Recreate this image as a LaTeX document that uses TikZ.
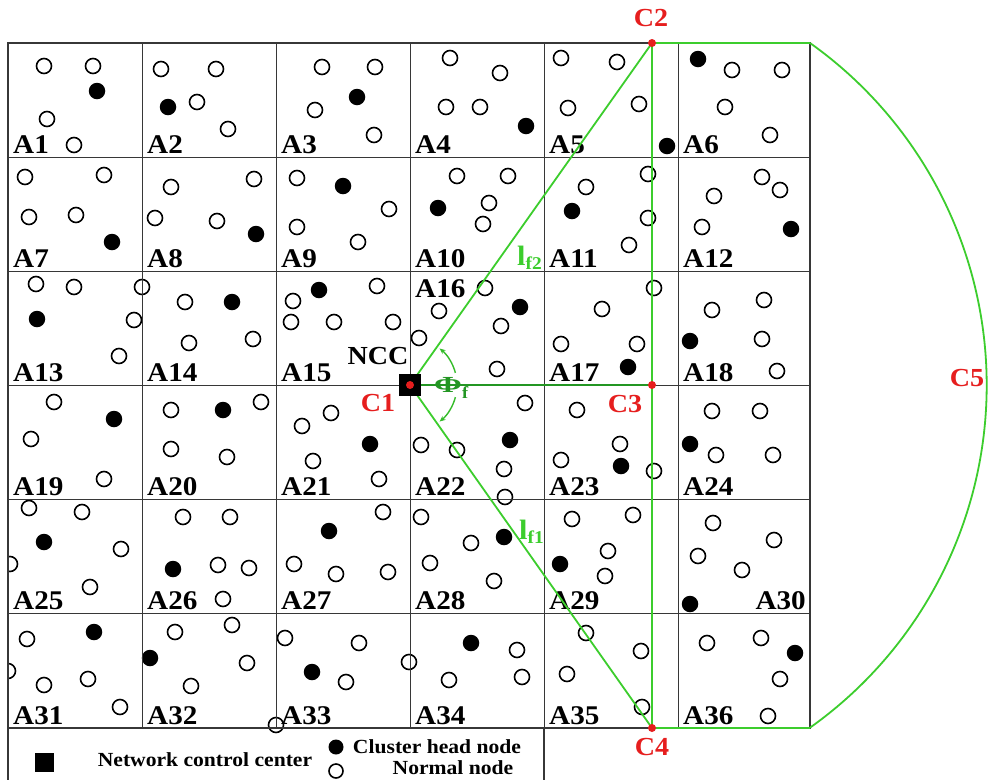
\documentclass[tikz,border=0pt]{standalone}
\usepackage{fontspec}
\setmainfont{Liberation Serif}[FakeStretch=1.08]
\usetikzlibrary{arrows.meta,calc}
\definecolor{gline}{RGB}{60,205,45}
\definecolor{dgline}{RGB}{35,150,35}
\definecolor{cred}{RGB}{230,30,30}
\definecolor{gridc}{RGB}{55,55,55}
\begin{document}
\begin{tikzpicture}[x=1pt,y=-1pt,
  opn/.style={circle,draw=black,line width=1.6pt,minimum size=15pt,inner sep=0pt},
  ful/.style={circle,fill=black,minimum size=16.5pt,inner sep=0pt},
  lab/.style={font=\fontsize{27}{27}\selectfont\bfseries,anchor=base west,inner sep=0pt},
  clab/.style={font=\fontsize{26}{26}\selectfont\bfseries,text=cred,inner sep=0pt},
  leg/.style={font=\fontsize{20}{20}\selectfont\bfseries,inner sep=0pt},
  gl/.style={gline,line width=1.8pt},
  rdot/.style={circle,fill=cred,minimum size=8pt,inner sep=0pt}]
\useasboundingbox (0,0) rectangle (988,780);
\fill[white] (0,0) rectangle (988,780);
% nodes (circles)
\begin{scope}
\clip (8,0) rectangle (988,780);
\foreach \x/\y [count=\i] in {
 44/66,93/66,47/119,74/145,161/69,216/69,197/102,228/129,322/67,375/67,315/110,374/135,
 450/58,500/73,446/107,480/107,561/58,617/62,568/108,639/104,732/70,782/70,725/107,770/135,
 25/177,104/175,29/217,76/215,171/187,254/179,155/218,217/221,297/178,389/209,297/227,358/242,
 457/176,508/176,489/203,483/224,648/174,586/187,648/218,629/245,762/177,780/190,714/196,702/227,
 36/284,74/287,142/287,134/320,119/356,185/302,189/343,253/339,377/286,293/301,291/322,334/322,393/322,
 485/288,439/311,501/326,419/338,497/369,654/288,602/309,561/344,637/344,764/300,712/310,762/339,777/371,
 54/402,31/439,104/479,171/410,261/402,171/449,227/457,331/413,302/426,313/461,379/479,
 525/403,421/445,457/450,504/469,505/497,577/410,620/444,561/460,654/471,712/411,760/411,716/455,773/455,
 29/508,82/512,121/549,10/564,90/587,183/517,230/517,218/565,249/568,223/599,383/512,294/564,336/574,388/572,
 421/517,471/543,430/563,494/581,572/519,633/515,608/551,605/576,713/523,774/540,698/556,742/570,
 27/639,8/671,44/685,88/679,120/707,175/632,232/625,247/663,191/686,285/638,359/643,346/682,409/662,276/725,
 517/650,522/677,449/680,586/633,641/651,567/674,642/707,707/643,761/638,780/679,768/716}
  \node[opn] (o\i) at (\x,\y) {};
\foreach \x/\y [count=\i] in {
 97/91,168/107,357/97,526/126,667/146,698/59,
 112/242,256/234,343/186,438/208,572/211,791/229,
 37/319,232/302,319/290,520/307,628/367,690/341,
 114/419,223/410,370/444,510/440,621/466,690/444,
 44/542,173/569,329/531,504/537,560/564,690/604,
 94/632,150/658,312/672,471/643,795/653}
  \node[ful] (f\i) at (\x,\y) {};
\end{scope}
% grid
\draw[gridc,line width=1.3pt] (8,43) rectangle (810,728);
\foreach \x in {142,276,410,544,678} \draw[gridc,line width=1pt] (\x,43) -- (\x,728);
\foreach \y in {157,271,385,499,613} \draw[gridc,line width=1pt] (8,\y) -- (810,\y);
\draw[gridc,line width=1.3pt] (8,728) -- (8,780) (544,728) -- (544,780);
% cell labels
\foreach \n/\x/\y in {1/13/153,2/147/153,3/281/153,4/415/153,5/549/153,6/683/153,
 7/13/267,8/147/267,9/281/267,10/415/267,11/549/267,12/683/267,
 13/13/381,14/147/381,15/281/381,16/415/297,17/549/381,18/683/381,
 19/13/495,20/147/495,21/281/495,22/415/495,23/549/495,24/683/495,
 25/13/609,26/147/609,27/281/609,28/415/609,29/549/609,
 31/13/724,32/147/724,33/281/724,34/415/724,35/549/724,36/683/724}
  \node[lab] (a\n) at (\x,\y) {A\n};
\node[lab,anchor=base east] (a30) at (806,609) {A30};
% green geometry
\coordinate (C1) at (410,385);
\coordinate (C2) at (652,43);
\coordinate (C3) at (652,385);
\coordinate (C4) at (652,728);
\coordinate (R1) at (810,43);
\coordinate (R2) at (810,728);
\draw[gl] (C1) -- (C2);
\draw[gl] (C1) -- (C4);
\draw[gl] (C2) -- (C4);
\draw[gl] (C2) -- (R1);
\draw[gl] (C4) -- (R2);
\draw[gl] (R1) arc[start angle=-54.6,end angle=54.6,radius=420];
\draw[dgline,line width=1.8pt] (C1) -- (C3);
\draw[gline!70!dgline,line width=1.4pt,-{Stealth[length=6pt,width=5pt]}] ($(C1)+(-15:47)$) arc[start angle=-15,end angle=-51,radius=47];
\draw[gline!70!dgline,line width=1.4pt,-{Stealth[length=6pt,width=5pt]}] ($(C1)+(15:47)$) arc[start angle=15,end angle=51,radius=47];
% NCC
\node[fill=black,minimum size=22pt,inner sep=0pt] (ncc) at (C1) {};
\node[rdot] (d1) at (C1) {};
\node[rdot] (d2) at (C2) {};
\node[rdot] (d3) at (C3) {};
\node[rdot] (d4) at (C4) {};
\node[font=\fontsize{26}{26}\selectfont\bfseries,inner sep=0pt] (nccl) at (378,356) {NCC};
\node[clab] (c1) at (378,403) {C1};
\node[clab] (c2) at (651,18) {C2};
\node[clab] (c3) at (625,404) {C3};
\node[clab] (c4) at (652,747) {C4};
\node[clab] (c5) at (967,378) {C5};
\node[text=dgline,anchor=west,inner sep=0pt] (phi) at (434,388)
  {\fontsize{23}{23}\selectfont\bfseries\scalebox{1.35}[1]{Φ}\raisebox{-6pt}{\fontsize{17}{17}\selectfont f}};
\node[text=gline,anchor=base west,inner sep=0pt] (lf2) at (517,265)
  {\fontsize{28}{28}\selectfont\bfseries l\raisebox{-4pt}{\fontsize{18}{18}\selectfont f2}};
\node[text=gline,anchor=base west,inner sep=0pt] (lf1) at (519,539)
  {\fontsize{28}{28}\selectfont\bfseries l\raisebox{-4pt}{\fontsize{18}{18}\selectfont f1}};
% legend
\node[fill=black,minimum size=19pt,inner sep=0pt] (lsq) at (44,762) {};
\node[leg] (ltx1) at (205,760) {Network control center};
\node[ful,minimum size=15pt] (lch) at (336,747) {};
\node[opn,minimum size=14pt] (lnn) at (336,771) {};
\node[leg] (ltx2) at (437,747) {Cluster head node};
\node[leg] (ltx3) at (453,768) {Normal node};
\end{tikzpicture}
\end{document}
